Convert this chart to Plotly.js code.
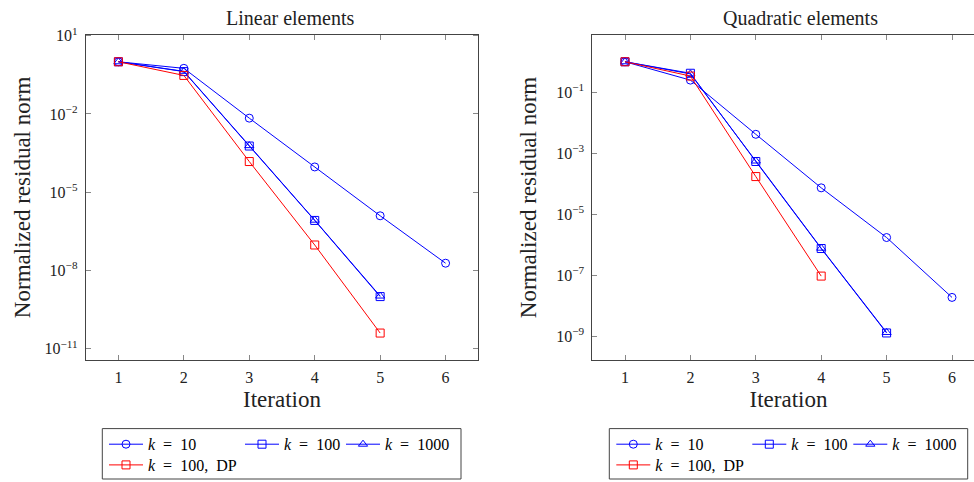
<!DOCTYPE html>
<html><head><meta charset="utf-8">
<script src="https://cdn.plot.ly/plotly-3.0.1.min.js"></script>
<style>html,body{margin:0;padding:0;overflow:hidden;background:#fff}#chart{width:1000px;height:482px}</style>
</head><body><div id="chart"></div>
<script>
// ---- data ----
const iterations = [1, 2, 3, 4, 5, 6];
const linK10    = [1, 0.56, 6.9e-3, 9.3e-5, 1.25e-6, 1.9e-8];
const linK100   = [1, 0.42, 5.9e-4, 8.3e-7, 1.0e-9];
const linK1000  = [1, 0.43, 6.1e-4, 8.5e-7, 1.05e-9];
const linK100DP = [1, 0.30, 1.5e-4, 9.5e-8, 4.0e-11];
const quadK10    = [1, 0.25, 4.2e-3, 7.4e-5, 1.74e-6, 1.9e-8];
const quadK100   = [1, 0.42, 5.4e-4, 7.6e-7, 1.3e-9];
const quadK1000  = [1, 0.40, 5.6e-4, 7.8e-7, 1.35e-9];
const quadK100DP = [1, 0.34, 1.73e-4, 9.5e-8];
const seriesNames = ['<i>k</i>\u2002=\u200210', '<i>k</i>\u2002=\u2002100', '<i>k</i>\u2002=\u20021000', '<i>k</i>\u2002=\u2002100,\u2002DP'];
const panelTitles = ['Linear elements', 'Quadratic elements'];
const xTitle = 'Iteration';
const yTitle = 'Normalized residual norm';
const linTickVals = [1e1, 1e-2, 1e-5, 1e-8, 1e-11];
const linTickText = ['10<sup>1</sup>', '10<sup>\u22122</sup>', '10<sup>\u22125</sup>', '10<sup>\u22128</sup>', '10<sup>\u221211</sup>'];
const quadTickVals = [1e-1, 1e-3, 1e-5, 1e-7, 1e-9];
const quadTickText = ['10<sup>\u22121</sup>', '10<sup>\u22123</sup>', '10<sup>\u22125</sup>', '10<sup>\u22127</sup>', '10<sup>\u22129</sup>'];

// ---- styling ----
const FONT = 'Liberation Serif';
const BLUE = '#0000ff', RED = '#ff0000';
const W = 1000, H = 482;
const px = v => v / W;
const py = v => (H - v) / H;

function tr(y, name, sym, color, xa, ya, legend, lw) {
  const t = {
    x: iterations.slice(0, y.length), y: y, name: name,
    type: 'scatter', mode: 'lines+markers',
    xaxis: xa, yaxis: ya, legend: legend,
    line: {color: color, width: 1},
    marker: {symbol: sym, size: 8, color: color, line: {color: color, width: 1}},
    hoverinfo: 'x+y+name'
  };
  if (lw) t.legendwidth = lw;
  return t;
}

const data = [
  tr(linK10, seriesNames[0], 'circle-open', BLUE, 'x', 'y', 'legend', 87),
  tr(linK100, seriesNames[1], 'square-open', BLUE, 'x', 'y', 'legend', 52),
  tr(linK1000, seriesNames[2], 'triangle-up-open', BLUE, 'x', 'y', 'legend'),
  tr(linK100DP, seriesNames[3], 'square-open', RED, 'x', 'y', 'legend2'),
  tr(quadK10, seriesNames[0], 'circle-open', BLUE, 'x2', 'y2', 'legend3', 87),
  tr(quadK100, seriesNames[1], 'square-open', BLUE, 'x2', 'y2', 'legend3', 52),
  tr(quadK1000, seriesNames[2], 'triangle-up-open', BLUE, 'x2', 'y2', 'legend3'),
  tr(quadK100DP, seriesNames[3], 'square-open', RED, 'x2', 'y2', 'legend4')
];

function xAxis(domain, anchor) {
  return {
    domain: domain, anchor: anchor,
    range: [0.5, 6.5], tick0: 1, dtick: 1, tickmode: 'linear',
    ticks: 'inside', ticklen: 5, tickcolor: '#888', tickwidth: 1,
    showline: true, linecolor: '#444', linewidth: 1, mirror: 'ticks',
    showgrid: false, zeroline: false, ticklabelstandoff: 3,
    tickfont: {family: FONT, size: 16, color: '#222'},
    title: {text: xTitle, standoff: 5, font: {family: FONT, size: 23, color: '#222'}}
  };
}
function yAxis(domain, anchor, range, vals, text) {
  return {
    domain: domain, anchor: anchor, type: 'log', range: range,
    tickmode: 'array', tickvals: vals, ticktext: text,
    ticks: 'inside', ticklen: 5, tickcolor: '#888', tickwidth: 1,
    showline: true, linecolor: '#444', linewidth: 1, mirror: 'ticks',
    showgrid: false, zeroline: false, ticklabelstandoff: 4,
    tickfont: {family: FONT, size: 16, color: '#222'},
    title: {text: yTitle, font: {family: FONT, size: 23, color: '#222'}}
  };
}
const yDomain = [py(361), py(34.7)];

function legendAt(xp, yc) {
  return {
    x: px(xp), xanchor: 'left', y: py(yc), yanchor: 'middle',
    orientation: 'h', bgcolor: 'rgba(0,0,0,0)', borderwidth: 0,
    font: {family: FONT, size: 16, color: '#000'}, itemwidth: 34,
    itemclick: false, itemdoubleclick: false
  };
}

const layout = {
  width: W, height: H,
  margin: {l: 0, r: 0, t: 0, b: 0},
  font: {family: FONT, size: 16, color: '#222'},
  paper_bgcolor: '#fff', plot_bgcolor: '#fff',
  showlegend: true,
  xaxis: xAxis([px(85.7), px(478.3)], 'y'),
  yaxis: yAxis(yDomain, 'x', [-11.44, 1.04], linTickVals, linTickText),
  xaxis2: xAxis([px(592.3), px(984.7)], 'y2'),
  yaxis2: yAxis(yDomain, 'x2', [-9.78, 0.889], quadTickVals, quadTickText),
  legend: legendAt(104, 444.3),
  legend2: legendAt(104, 465.7),
  legend3: legendAt(611.3, 444.3),
  legend4: legendAt(611.3, 465.7),
  annotations: [
    {text: panelTitles[0], xref: 'paper', yref: 'paper', x: px(290), y: py(18.5), xanchor: 'center', yanchor: 'middle', showarrow: false, font: {family: FONT, size: 20, color: '#222'}},
    {text: panelTitles[1], xref: 'paper', yref: 'paper', x: px(800), y: py(18.5), xanchor: 'center', yanchor: 'middle', showarrow: false, font: {family: FONT, size: 20, color: '#222'}}
  ],
  shapes: [
    {type: 'rect', xref: 'paper', yref: 'paper', x0: px(102.3), x1: px(461), y0: py(480), y1: py(429.5), line: {color: '#444', width: 1}, fillcolor: 'rgba(0,0,0,0)'},
    {type: 'rect', xref: 'paper', yref: 'paper', x0: px(609.3), x1: px(967.7), y0: py(480), y1: py(429.5), line: {color: '#444', width: 1}, fillcolor: 'rgba(0,0,0,0)'}
  ]
};

Plotly.newPlot('chart', data, layout, {displayModeBar: false});
</script>
</body></html>
